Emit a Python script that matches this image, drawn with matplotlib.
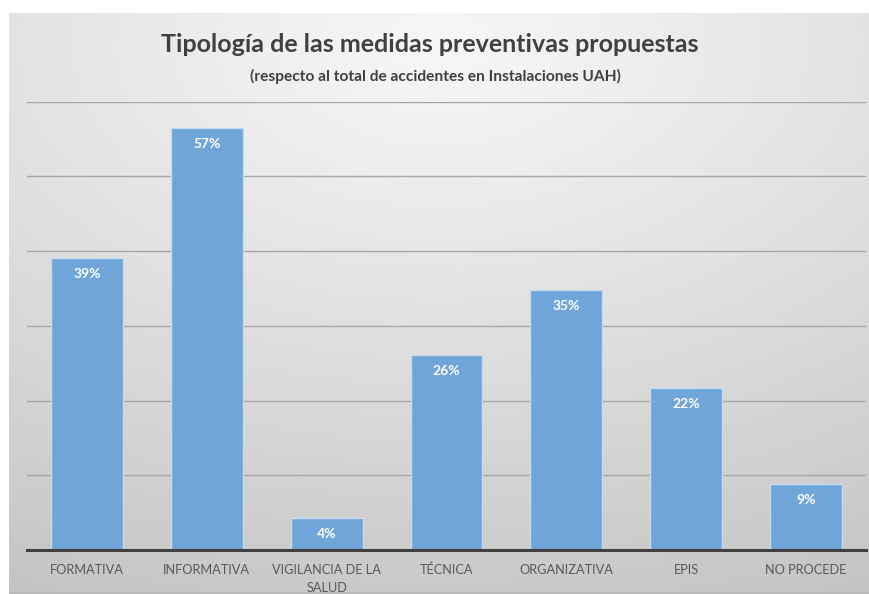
import numpy as np
import matplotlib
matplotlib.use('Agg')
import matplotlib.pyplot as plt

# Data ############################################
categories = ['FORMATIVA', 'INFORMATIVA', 'VIGILANCIA DE LA\nSALUD', 'TÉCNICA',
              'ORGANIZATIVA', 'EPIS', 'NO PROCEDE']
values = [39.1, 56.5, 4.3, 26.1, 34.8, 21.7, 8.8]
value_labels = ['39%', '57%', '4%', '26%', '35%', '22%', '9%']
title = 'Tipología de las medidas preventivas propuestas'
subtitle = '(respecto al total de accidentes en Instalaciones UAH)'
###################################################

font = ['Lato', 'DejaVu Sans']

fig = plt.figure(figsize=(8.7, 5.94), dpi=100)
fig.patch.set_facecolor('white')

# gray gradient background panel
bg = fig.add_axes([9 / 870, 0, 1 - 9 / 870, 1 - 13 / 594])
yy, xx = np.mgrid[0:1:300j, 0:1:400j]
d = np.sqrt(((xx - 0.5) * 1.0) ** 2 + ((yy - 0.05) * 1.1) ** 2)
d = d / d.max()
img = 0.965 - 0.2 * d ** 1.1
bg.imshow(img, cmap='gray', vmin=0, vmax=1, aspect='auto', extent=[0, 1, 1, 0])
bg.set_axis_off()
bg.axhline(0.999, color='#b8b8b8', lw=1.2)

ax = fig.add_axes([27 / 870, 44 / 594, (866 - 27) / 870, (550 - 101.7) / 594])
ax.patch.set_alpha(0)
x = np.arange(len(categories))
bars = ax.bar(x, values, width=0.6, color='#6fa5d8', edgecolor='#c5dcf0', linewidth=1.0, zorder=3)

ax.set_xlim(-0.5, len(categories) - 0.5)
ax.set_ylim(0, 60)
ax.set_yticks(np.arange(10, 61, 10))
ax.yaxis.grid(True, color='#a6a6a6', lw=1.0, zorder=0)
ax.tick_params(axis='y', left=False, labelleft=False)
ax.tick_params(axis='x', length=0, pad=10)
ax.set_xticks(x)
ax.set_xticklabels(categories, family=font, fontsize=9.2, color='#595959', linespacing=1.6)
for s in ['top', 'right', 'left']:
    ax.spines[s].set_visible(False)
ax.spines['bottom'].set_color('#404040')
ax.spines['bottom'].set_linewidth(2.2)
ax.spines['bottom'].set_zorder(4)

for xi, v, lab in zip(x, values, value_labels):
    ax.annotate(lab, (xi, v), xytext=(0, -11.5), textcoords='offset points',
                ha='center', va='center', color='white', fontsize=10, fontweight='bold',
                family=font, zorder=5)

fig.text(0.494, 1 - 45 / 594, title, ha='center', va='center', fontsize=18,
         fontweight='bold', family=font, color='#404040')
fig.text(0.5, 1 - 76 / 594, subtitle, ha='center', va='center', fontsize=11.2,
         fontweight='bold', family=font, color='#404040')

fig.savefig('out.png', dpi=100)
